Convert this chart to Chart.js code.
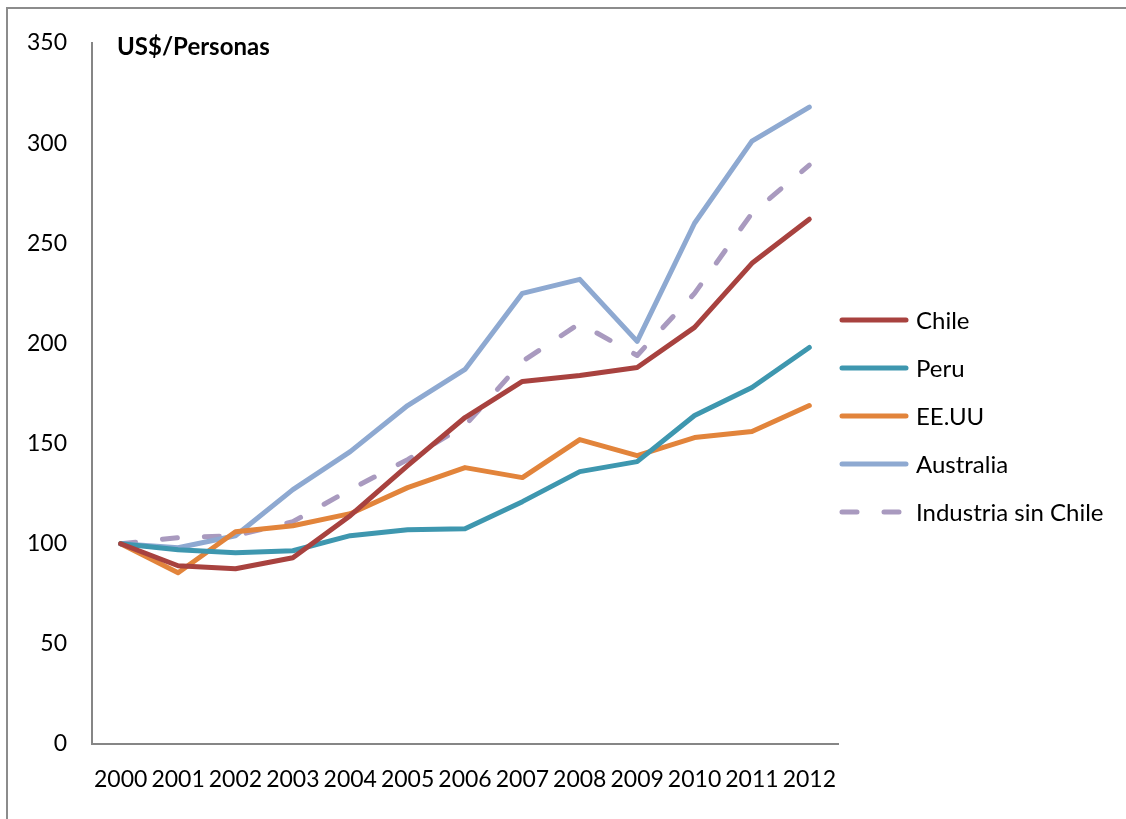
<!DOCTYPE html>
<html>
<head>
<meta charset="utf-8">
<script src="https://cdn.jsdelivr.net/npm/chart.js@4/dist/chart.umd.min.js"></script>
<style>
  html, body { margin: 0; padding: 0; background: #fff; overflow: hidden; }
  #wrap { position: relative; width: 1126px; height: 819px; }
</style>
</head>
<body>
<div id="wrap"><canvas id="chart" width="1126" height="819"></canvas></div>
<script>
const years = ['2000', '2001', '2002', '2003', '2004', '2005', '2006', '2007', '2008', '2009', '2010', '2011', '2012'];

const chile = [100, 89, 87.5, 93, 114, 139, 163, 181, 184, 188, 208, 240, 262];
const peru = [100, 97, 95.5, 96.5, 104, 107, 107.5, 121, 136, 141, 164, 178, 198];
const eeuu = [100, 85.5, 106, 109, 115, 128, 138, 133, 152, 144, 153, 156, 169];
const australia = [100, 98, 104, 127, 146, 169, 187, 225, 232, 201, 260, 301, 318];
const industria = [100, 103, 104, 111, 127, 142, 159, 191, 210, 194, 225, 265, 289];

const yTicks = [0, 50, 100, 150, 200, 250, 300, 350];

const font = 'Lato, "Open Sans", sans-serif';
const dashed = [15, 27];

const series = [
  { label: 'Chile', data: chile, color: '#A8423F', dash: [] },
  { label: 'Peru', data: peru, color: '#3E97AF', dash: [] },
  { label: 'EE.UU', data: eeuu, color: '#E2843B', dash: [] },
  { label: 'Australia', data: australia, color: '#8EA9D1', dash: [] },
  { label: 'Industria sin Chile', data: industria, color: '#A99ABF', dash: dashed }
];

// outer frame, unit label and the legend on the right
const decorations = {
  id: 'decorations',
  beforeDraw(chart) {
    const ctx = chart.ctx;
    ctx.save();
    ctx.strokeStyle = '#8c8c8c';
    ctx.lineWidth = 2;
    ctx.strokeRect(7, 8, 2000, 2000);
    ctx.restore();
  },
  afterDraw(chart) {
    const ctx = chart.ctx;
    const area = chart.chartArea;
    ctx.save();
    ctx.fillStyle = '#000';
    ctx.font = 'bold 24px ' + font;
    ctx.textBaseline = 'middle';
    ctx.fillText('US$/Personas', area.left + 25, 47);

    ctx.font = '24px ' + font;
    ctx.lineWidth = 5;
    ctx.lineCap = 'round';
    series.forEach((s, i) => {
      const y = 320 + i * 48;
      ctx.strokeStyle = s.color;
      ctx.setLineDash(s.dash);
      ctx.beginPath();
      ctx.moveTo(842, y);
      ctx.lineTo(906, y);
      ctx.stroke();
      ctx.fillText(s.label, 916, y + 1);
    });
    ctx.restore();
  }
};

new Chart(document.getElementById('chart'), {
  type: 'line',
  data: {
    labels: years,
    datasets: series.map((s) => ({
      label: s.label,
      data: s.data,
      borderColor: s.color,
      backgroundColor: s.color,
      borderWidth: 5,
      borderDash: s.dash,
      borderCapStyle: 'round',
      borderJoinStyle: 'round',
      pointRadius: 0,
      tension: 0
    }))
  },
  options: {
    responsive: false,
    animation: false,
    layout: { padding: { top: 43, right: 288, bottom: 0, left: 0 } },
    plugins: { legend: { display: false }, tooltip: { enabled: false } },
    scales: {
      x: {
        offset: true,
        grid: { display: false, drawTicks: false, offset: true },
        border: { display: true, color: '#868686', width: 2 },
        ticks: {
          color: '#000',
          font: { family: font, size: 23 },
          padding: 22,
          autoSkip: false,
          maxRotation: 0
        },
        afterFit: (scale) => { scale.height = 75; }
      },
      y: {
        min: 0,
        max: 350,
        afterBuildTicks: (scale) => { scale.ticks = yTicks.map((v) => ({ value: v })); },
        grid: { display: false, drawTicks: false },
        border: { display: true, color: '#868686', width: 2 },
        ticks: {
          color: '#000',
          font: { family: font, size: 23 },
          padding: 25
        },
        afterFit: (scale) => { scale.width = 92; }
      }
    }
  },
  plugins: [decorations]
});
</script>
</body>
</html>
